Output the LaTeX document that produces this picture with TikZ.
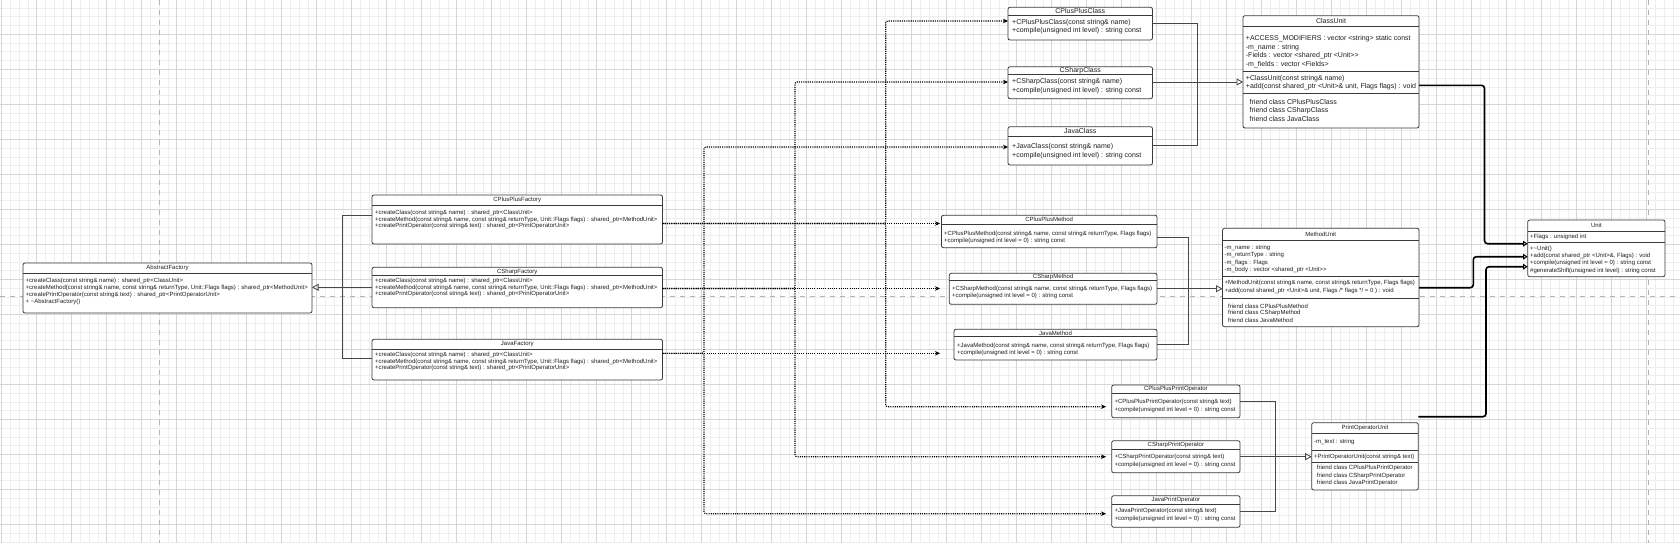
\documentclass[tikz,border=0pt]{standalone}
\usepackage{fontspec}
\setmainfont{Liberation Sans}
\usetikzlibrary{arrows.meta,calc}
\definecolor{ink}{HTML}{1E1E1E}
\definecolor{boxline}{HTML}{3A3A3A}
\definecolor{gridminor}{HTML}{EEEEEE}
\definecolor{gridmajor}{HTML}{D6D6D6}
\definecolor{pageline}{HTML}{B4B4B4}
% name, L, T, R, B, separator y, title, title style
\newcommand{\umlbox}[8]{%
  \node[box, anchor=north west, minimum width={#4-#2}, minimum height={#5-#3}] (#1) at (#2,#3) {};
  \draw[sepline] (#2,#6) -- (#4,#6);
  \node[#8] (#1-t) at ({(#2+#4)/2},{(#3+#6)/2}) {#7};
}
\begin{document}
\begin{tikzpicture}[x=1pt,y=-1pt,
  box/.style={draw=boxline, fill=white, rounded corners=2pt, line width=0.8pt, inner sep=0pt, outer sep=0pt},
  sepline/.style={draw=boxline, line width=0.8pt},
  ttl/.style={font=\fontsize{6}{7}\selectfont, text=ink, inner sep=0pt},
  ttlb/.style={font=\fontsize{7}{8}\selectfont, text=ink, inner sep=0pt},
  txt/.style={font=\fontsize{6}{7}\selectfont, text=ink, anchor=west, inner sep=0pt},
  txtb/.style={font=\fontsize{7}{8}\selectfont, text=ink, anchor=west, inner sep=0pt},
  conn/.style={draw=black!72, line width=0.8pt},
  inh/.style={conn, -{Triangle[open, length=6.5pt, width=7pt, line width=0.8pt]}},
  dep/.style={draw=black, line width=1.1pt, dash pattern=on 1.1pt off 1.1pt, rounded corners=2pt, -{Stealth[length=5pt, width=4.5pt]}},
  real/.style={draw=black, line width=1.6pt, rounded corners=3pt, -{Triangle[open, length=4.5pt, width=5.5pt, line width=1pt]}},
  gmin/.style={draw=gridminor, line width=0.6pt},
  gmaj/.style={draw=gridmajor, line width=0.7pt},
  pagebreak/.style={draw=pageline, line width=0.8pt, dash pattern=on 5pt off 5pt}
]
% ---------- background ----------
\fill[white] (0,0) rectangle (1680,543);
\useasboundingbox (0,0) rectangle (1680,543);
\foreach \i in {0,...,192} \draw[gmin] ({1.7+8.75*\i},0) -- ++(0,543);
\foreach \j in {0,...,62} \draw[gmin] (0,{-0.7+8.75*\j}) -- ++(1680,0);
\foreach \i in {0,...,48} \draw[gmaj] ({1.7+35*\i},0) -- ++(0,543);
\foreach \j in {0,...,16} \draw[gmaj] (0,{-0.7+35*\j}) -- ++(1680,0);
\draw[pagebreak] (159,0) -- (159,543);
\draw[pagebreak] (1648,0) -- (1648,543);
\draw[pagebreak] (0,296) -- (1680,296);

% ---------- AbstractFactory ----------
\umlbox{af}{23}{263}{312}{313}{273}{AbstractFactory}{ttl}
\node[txt] (af-1) at (25.5,280.5) {+createClass(const string\& name) : shared\_ptr<ClassUnit>};
\node[txt] (af-2) at (25.5,287.8) {+createMethod(const string\& name, const string\& returnType, Unit::Flags flags) : shared\_ptr<MethodUnit>};
\node[txt] (af-3) at (25.5,295.1) {+createPrintOperator(const string\& text) : shared\_ptr<PrintOperatorUnit>};
\node[txt] (af-4) at (25.5,302.4) {+ \textasciitilde AbstractFactory()};

% ---------- Factories ----------
\umlbox{cpf}{372}{195}{662.5}{244}{205.7}{CPlusPlusFactory}{ttl}
\node[txt] (cpf-1) at (375,213.3) {+createClass(const string\& name) : shared\_ptr<ClassUnit>};
\node[txt] (cpf-2) at (375,219.5) {+createMethod(const string\& name, const string\& returnType, Unit::Flags flags) : shared\_ptr<MethodUnit>};
\node[txt] (cpf-3) at (375,225.7) {+createPrintOperator(const string\& text) : shared\_ptr<PrintOperatorUnit>};

\umlbox{csf}{372}{267.3}{662.5}{307.7}{275.7}{CSharpFactory}{ttl}
\node[txt] (csf-1) at (375,281.3) {+createClass(const string\& name) : shared\_ptr<ClassUnit>};
\node[txt] (csf-2) at (375,287.5) {+createMethod(const string\& name, const string\& returnType, Unit::Flags flags) : shared\_ptr<MethodUnit>};
\node[txt] (csf-3) at (375,293.7) {+createPrintOperator(const string\& text) : shared\_ptr<PrintOperatorUnit>};

\umlbox{jf}{372}{339.3}{662.5}{380}{349.3}{JavaFactory}{ttl}
\node[txt] (jf-1) at (375,355.3) {+createClass(const string\& name) : shared\_ptr<ClassUnit>};
\node[txt] (jf-2) at (375,361.5) {+createMethod(const string\& name, const string\& returnType, Unit::Flags flags) : shared\_ptr<MethodUnit>};
\node[txt] (jf-3) at (375,367.7) {+createPrintOperator(const string\& text) : shared\_ptr<PrintOperatorUnit>};

% ---------- Classes ----------
\umlbox{cpc}{1008}{7.3}{1152.5}{40}{15}{CPlusPlusClass}{ttlb}
\node[txtb] (cpc-1) at (1012,22.7) {+CPlusPlusClass(const string\& name)};
\node[txtb] (cpc-2) at (1012,31) {+compile(unsigned int level) : string const};

\umlbox{csc}{1008}{66.7}{1152.5}{98.7}{74}{CSharpClass}{ttlb}
\node[txtb] (csc-1) at (1012,82) {+CSharpClass(const string\& name)};
\node[txtb] (csc-2) at (1012,90.7) {+compile(unsigned int level) : string const};

\umlbox{jc}{1008}{126.7}{1152.5}{165}{136}{JavaClass}{ttlb}
\node[txtb] (jc-1) at (1012,146.7) {+JavaClass(const string\& name)};
\node[txtb] (jc-2) at (1012,155.3) {+compile(unsigned int level) : string const};

% ---------- ClassUnit ----------
\umlbox{cu}{1243}{15.7}{1419}{128}{26.7}{ClassUnit}{ttlb}
\draw[sepline] (1243,71.3) -- (1419,71.3);
\draw[sepline] (1243,93.7) -- (1419,93.7);
\node[txtb] (cu-1) at (1245.7,38.7) {+ACCESS\_MODIFIERS : vector <string> static const};
\node[txtb] (cu-2) at (1245.7,47.3) {-m\_name : string};
\node[txtb] (cu-3) at (1245.7,56) {-Fields : vector <shared\_ptr <Unit>{}>};
\node[txtb] (cu-4) at (1245.7,64.7) {-m\_fields : vector <Fields>};
\node[txtb] (cu-5) at (1245.7,78.7) {+ClassUnit(const string\& name)};
\node[txtb] (cu-6) at (1245.7,87) {+add(const shared\_ptr <Unit>\& unit, Flags flags) : void};
\node[txtb] (cu-7) at (1249.5,102) {friend class CPlusPlusClass};
\node[txtb] (cu-8) at (1249.5,110.7) {friend class CSharpClass};
\node[txtb] (cu-9) at (1249.5,119.3) {friend class JavaClass};

% ---------- Methods ----------
\umlbox{cpm}{941.4}{215.3}{1157}{247.7}{224.3}{CPlusPlusMethod}{ttl}
\node[txt] (cpm-1) at (944,233.7) {+CPlusPlusMethod(const string\& name, const string\& returnType, Flags flags)};
\node[txt] (cpm-2) at (944,240.7) {+compile(unsigned int level = 0) : string const};

\umlbox{csm}{949.3}{273.3}{1157}{304.3}{280.7}{CSharpMethod}{ttl}
\node[txt] (csm-1) at (952,288.7) {+CSharpMethod(const string\& name, const string\& returnType, Flags flags)};
\node[txt] (csm-2) at (952,296) {+compile(unsigned int level = 0) : string const};

\umlbox{jm}{954}{329.3}{1157}{360}{336.7}{JavaMethod}{ttl}
\node[txt] (jm-1) at (957,345.5) {+JavaMethod(const string\& name, const string\& returnType, Flags flags)};
\node[txt] (jm-2) at (957,353.3) {+compile(unsigned int level = 0) : string const};

% ---------- MethodUnit ----------
\umlbox{mu}{1222.5}{228.3}{1419}{326.7}{240}{MethodUnit}{ttl}
\draw[sepline] (1222.5,276.7) -- (1419,276.7);
\draw[sepline] (1222.5,298.3) -- (1419,298.3);
\node[txt] (mu-1) at (1224.5,248) {-m\_name : string};
\node[txt] (mu-2) at (1224.5,255.3) {-m\_returnType : string};
\node[txt] (mu-3) at (1224.5,262.7) {-m\_flags : Flags};
\node[txt] (mu-4) at (1224.5,270) {-m\_body : vector <shared\_ptr <Unit>{}>};
\node[txt] (mu-5) at (1224.5,283.3) {+MethodUnit(const string\& name, const string\& returnType, Flags flags)};
\node[txt] (mu-6) at (1224.5,290.7) {+add(const shared\_ptr <Unit>\& unit, Flags /* flags */ = 0 ) : void};
\node[txt] (mu-7) at (1228,306) {friend class CPlusPlusMethod};
\node[txt] (mu-8) at (1228,313.3) {friend class CSharpMethod};
\node[txt] (mu-9) at (1228,320.7) {friend class JavaMethod};

% ---------- Unit ----------
\umlbox{un}{1527.7}{220}{1665}{276.7}{231.7}{Unit}{ttl}
\draw[sepline] (1527.7,242.7) -- (1665,242.7);
\node[txt] (un-1) at (1530,237.3) {+Flags : unsigned int};
\node[txt] (un-2) at (1530,249) {+\textasciitilde Unit()};
\node[txt] (un-3) at (1530,256.2) {+add(const shared\_ptr <Unit>\&, Flags) : void};
\node[txt] (un-4) at (1530,263.4) {+compile(unsigned int level = 0) : string const};
\node[txt] (un-5) at (1530,270.6) {\#generateShift(unsigned int level) : string const};

% ---------- Print operators ----------
\umlbox{cpp}{1111.7}{385}{1240}{417.7}{393.3}{CPlusPlusPrintOperator}{ttl}
\node[txt] (cpp-1) at (1114.3,402.3) {+CPlusPlusPrintOperator(const string\& text)};
\node[txt] (cpp-2) at (1114.3,410) {+compile(unsigned int level = 0) : string const};

\umlbox{csp}{1111.7}{440.7}{1240}{472.7}{449.3}{CSharpPrintOperator}{ttl}
\node[txt] (csp-1) at (1114.3,457.3) {+CSharpPrintOperator(const string\& text)};
\node[txt] (csp-2) at (1114.3,464.7) {+compile(unsigned int level = 0) : string const};

\umlbox{jp}{1111.7}{495.7}{1240}{527.3}{504}{JavaPrintOperator}{ttl}
\node[txt] (jp-1) at (1114.3,511.3) {+JavaPrintOperator(const string\& text)};
\node[txt] (jp-2) at (1114.3,518.7) {+compile(unsigned int level = 0) : string const};

% ---------- PrintOperatorUnit ----------
\umlbox{pu}{1311.7}{422.7}{1418.3}{490}{433.3}{PrintOperatorUnit}{ttl}
\draw[sepline] (1311.7,450) -- (1418.3,450);
\draw[sepline] (1311.7,462.7) -- (1418.3,462.7);
\node[txt] (pu-1) at (1314,441.7) {-m\_text : string};
\node[txt] (pu-2) at (1314,456.5) {+PrintOperatorUnit(const string\& text)};
\node[txt] (pu-3) at (1316.7,468.3) {friend class CPlusPlusPrintOperator};
\node[txt] (pu-4) at (1316.7,475.6) {friend class CSharpPrintOperator};
\node[txt] (pu-5) at (1316.7,482.9) {friend class JavaPrintOperator};

% ---------- generalisation (thin) ----------
\draw[conn] (cpf.west |- 0,215.7) -- (342,215.7) -- (342,358.3) -- (jf.west |- 0,358.3);
\draw[inh] (csf.west |- 0,287.3) -- (af.east |- 0,287.3);

\draw[conn] (cpc.east |- 0,23.3) -- (1197.5,23.3) -- (1197.5,145.7) -- (jc.east |- 0,145.7);
\draw[inh] (csc.east |- 0,82) -- (cu.west |- 0,82);

\draw[conn] (cpm.east |- 0,237.7) -- (1188.6,237.7) -- (1188.6,344.3) -- (jm.east |- 0,344.3);
\draw[inh] (csm.east |- 0,288.7) -- (mu.west |- 0,288.7);

\draw[conn] (cpp.east |- 0,401.7) -- (1275.3,401.7) -- (1275.3,511.3) -- (jp.east |- 0,511.3);
\draw[inh] (csp.east |- 0,456.7) -- (pu.west |- 0,456.7);

% ---------- generalisation (thick) to Unit ----------
\draw[real] (cu.east |- 0,85.3) -- (1484.5,85.3) -- (1484.5,243.7) -- (un.west |- 0,243.7);
\draw[real] (mu.east |- 0,287.7) -- (1473.3,287.7) -- (1473.3,256.7) -- (un.west |- 0,256.7);
\draw[real] (pu.east |- 0,416.7) -- (1486,416.7) -- (1486,266.7) -- (un.west |- 0,266.7);

% ---------- dependencies (dotted) ----------
\draw[dep] (cpf.east |- 0,223.5) -- (885.7,223.5) -- (885.7,21) -- (cpc.west |- 0,21);
\draw[dep, shorten >=1.4pt] (cpf.east |- 0,223.5) -- (cpm.west |- 0,223.5);
\draw[dep, shorten >=5.7pt] (cpf.east |- 0,223.5) -- (885.7,223.5) -- (885.7,406.7) -- (cpp.west |- 0,406.7);

\draw[dep] (csf.east |- 0,288.5) -- (795,288.5) -- (795,82) -- (csc.west |- 0,82);
\draw[dep, shorten >=9.3pt] (csf.east |- 0,288.5) -- (csm.west |- 0,288.5);
\draw[dep, shorten >=5.7pt] (csf.east |- 0,288.5) -- (795,288.5) -- (795,456.7) -- (csp.west |- 0,456.7);

\draw[dep] (jf.east |- 0,353.3) -- (704,353.3) -- (704,147) -- (jc.west |- 0,147);
\draw[dep, shorten >=14pt] (jf.east |- 0,353.3) -- (jm.west |- 0,353.3);
\draw[dep, shorten >=5.7pt] (jf.east |- 0,353.3) -- (704,353.3) -- (704,513.7) -- (jp.west |- 0,513.7);
\end{tikzpicture}
\end{document}
